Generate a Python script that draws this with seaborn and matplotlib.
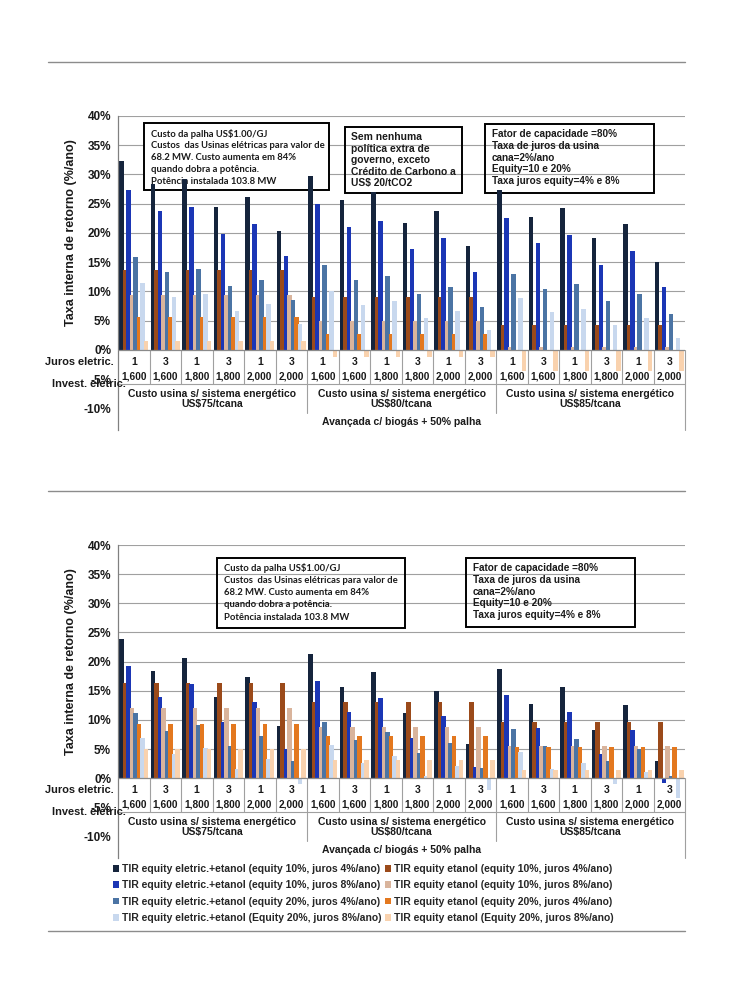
import numpy as np
import pandas as pd
import matplotlib
matplotlib.use("Agg")
import matplotlib.pyplot as plt
import seaborn as sns
from matplotlib.patches import Rectangle, Patch
from matplotlib.lines import Line2D

sns.set_style("white")
plt.rcParams["font.family"] = ["Liberation Sans", "DejaVu Sans"]

# ---------------- data ----------------
juros_labels = ["1", "3", "1", "3", "1", "3"] * 3
invest_labels = ["1,600", "1,600", "1,800", "1,800", "2,000", "2,000"] * 3
cost_labels = ["Custo usina s/ sistema energético\nUS$75/tcana",
               "Custo usina s/ sistema energético\nUS$80/tcana",
               "Custo usina s/ sistema energético\nUS$85/tcana"]
scenario_label = "Avançada c/ biogás + 50% palha"

series_names = [
    "TIR equity eletric.+etanol (equity 10%, juros 4%/ano)",
    "TIR equity etanol (equity 10%, juros 4%/ano)",
    "TIR equity eletric.+etanol (equity 10%, juros 8%/ano)",
    "TIR equity etanol (equity 10%, juros 8%/ano)",
    "TIR equity eletric.+etanol (equity 20%, juros 4%/ano)",
    "TIR equity etanol (equity 20%, juros 4%/ano)",
    "TIR equity eletric.+etanol (Equity 20%, juros 8%/ano)",
    "TIR equity etanol (Equity 20%, juros 8%/ano)",
]
series_colors = ["#15243C", "#9B4A1A", "#1B36B5", "#D9B49C",
                 "#4B74A4", "#E3781F", "#C8D8EE", "#F9D2AE"]

# top panel (percent)
top_elec_e10_j4 = [32.3, 28.4, 29.3, 24.4, 26.1, 20.4, 29.8, 25.7, 27.0, 21.7, 23.8, 17.8, 27.3, 22.8, 24.3, 19.1, 21.5, 15.0]
top_etan_e10_j4 = [13.6] * 6 + [9.0] * 6 + [4.3] * 6
top_elec_e10_j8 = [27.4, 23.7, 24.4, 19.8, 21.5, 16.1, 24.9, 21.1, 22.0, 17.2, 19.1, 13.3, 22.6, 18.3, 19.6, 14.6, 16.9, 10.8]
top_etan_e10_j8 = [9.4] * 6 + [5.0] * 6 + [0.5] * 6
top_elec_e20_j4 = [15.9, 13.3, 13.8, 11.0, 11.9, 8.6, 14.5, 11.9, 12.6, 9.6, 10.7, 7.4, 13.0, 10.4, 11.3, 8.3, 9.6, 6.1]
top_etan_e20_j4 = [5.6] * 6 + [2.7] * 6 + [-0.2] * 6
top_elec_e20_j8 = [11.5, 9.1, 9.6, 6.7, 7.9, 4.5, 10.1, 7.7, 8.3, 5.4, 6.6, 3.4, 8.8, 6.4, 7.0, 4.2, 5.4, 2.1]
top_etan_e20_j8 = [1.6] * 6 + [-1.2] * 6 + [-3.6] * 6

# bottom panel (percent)
bot_elec_e10_j4 = [23.8, 18.3, 20.6, 13.9, 17.3, 8.9, 21.3, 15.6, 18.2, 11.1, 15.0, 5.8, 18.8, 12.8, 15.6, 8.2, 12.5, 3.0]
bot_etan_e10_j4 = [16.3] * 6 + [13.0] * 6 + [9.6] * 6
bot_elec_e10_j8 = [19.3, 14.0, 16.1, 9.6, 13.1, 5.0, 16.7, 11.4, 13.8, 6.9, 10.7, 1.9, 14.3, 8.6, 11.4, 4.1, 8.3, -0.9]
bot_etan_e10_j8 = [12.1] * 6 + [8.7] * 6 + [5.5] * 6
bot_elec_e20_j4 = [11.1, 8.1, 9.1, 5.5, 7.3, 2.9, 9.6, 6.6, 7.9, 4.3, 6.0, 1.7, 8.4, 5.5, 6.7, 3.0, 5.0, 0.4]
bot_etan_e20_j4 = [9.3] * 6 + [7.3] * 6 + [5.3] * 6
bot_elec_e20_j8 = [6.9, 4.1, 5.1, 1.5, 3.3, -1.0, 5.7, 2.6, 3.8, 0.3, 2.0, -2.1, 4.5, 1.5, 2.6, -1.0, 1.0, -3.4]
bot_etan_e20_j8 = [5.0] * 6 + [3.1] * 6 + [1.4] * 6

top_series = [top_elec_e10_j4, top_etan_e10_j4, top_elec_e10_j8, top_etan_e10_j8,
              top_elec_e20_j4, top_etan_e20_j4, top_elec_e20_j8, top_etan_e20_j8]
bot_series = [bot_elec_e10_j4, bot_etan_e10_j4, bot_elec_e10_j8, bot_etan_e10_j8,
              bot_elec_e20_j4, bot_etan_e20_j4, bot_elec_e20_j8, bot_etan_e20_j8]

y_ticks = [-10, -5, 0, 5, 10, 15, 20, 25, 30, 35, 40]

box_left_lines = ["Custo da palha US$1.00/GJ",
                  "Custos  das Usinas elétricas para valor de",
                  "68.2 MW. Custo aumenta em 84%",
                  "quando dobra a potência.",
                  "Potência instalada 103.8 MW"]
box_mid_lines = ["Sem nenhuma", "política extra de", "governo, exceto",
                 "Crédito de Carbono a", "US$ 20/tCO2"]
box_right_lines = ["Fator de capacidade =80%", "Taxa de juros da usina",
                   "cana=2%/ano", "Equity=10 e 20%", "Taxa juros equity=4% e 8%"]

# ---------------- figure ----------------
W, H = 732, 994
fig = plt.figure(figsize=(W / 100, H / 100), dpi=100)
fig.patch.set_facecolor("white")

cats = [f"g{i:02d}" for i in range(18)]
YMIN = -13.7
GRID = "#a0a0a0"
TXT = "#1a1a1a"


def fx(px):
    return px / W


def fy(py):
    return 1 - py / H


def make_df(values):
    rows = []
    for name, vals in zip(series_names, values):
        for c, v in zip(cats, vals):
            rows.append({"cat": c, "series": name, "val": v})
    return pd.DataFrame(rows)


def draw_panel(ax, values):
    df = make_df(values)
    for y in range(5, 45, 5):
        ax.axhline(y, color=GRID, lw=0.8, zorder=0.5)
    sns.barplot(data=df, x="cat", y="val", hue="series", order=cats,
                hue_order=series_names, palette=series_colors, width=0.89,
                saturation=1, legend=False, ax=ax, linewidth=0, zorder=2)
    bw = 0.155
    for p in ax.patches:
        w = p.get_width()
        p.set_x(p.get_x() - (bw - w) / 2)
        p.set_width(bw)
    ax.axhline(0, color="#8a8a8a", lw=0.9, zorder=3)
    ax.set_xlim(-0.5, 17.5)
    ax.set_ylim(YMIN, 40)
    ax.set_xticks([])
    ax.set_xlabel("")
    ax.set_yticks(y_ticks)
    ax.set_yticklabels([f"{t}%" for t in y_ticks], fontsize=8.5,
                       fontweight="bold", color=TXT)
    ax.tick_params(axis="y", length=3, width=0.8, color="#808080", pad=2)
    for s in ["top", "right", "bottom"]:
        ax.spines[s].set_visible(False)
    ax.spines["left"].set_color("#808080")
    ax.spines["left"].set_linewidth(0.9)
    ax.set_ylabel("Taxa interna de retorno (%/ano)", fontsize=9,
                  fontweight="bold", color=TXT)
    ax.yaxis.set_label_coords(-0.072, (20 - YMIN) / (40 - YMIN))
    ax.set_facecolor("none")

    # category table
    row_line = -5.8
    cost_bottom = -10.8
    for i in range(18):
        ax.text(i, -2.1, juros_labels[i], ha="center", va="center",
                fontsize=7.5, fontweight="bold", color=TXT)
        ax.text(i, -4.6, invest_labels[i], ha="center", va="center",
                fontsize=7.3, fontweight="bold", color=TXT)
    for i in range(17):
        ax.plot([i + 0.5, i + 0.5], [0, row_line], color=GRID, lw=0.8,
                clip_on=False, zorder=1)
    ax.plot([-0.5, 17.5], [row_line, row_line], color=GRID, lw=0.8,
            clip_on=False, zorder=1)
    for xb in [5.5, 11.5]:
        ax.plot([xb, xb], [row_line, cost_bottom], color=GRID, lw=0.8,
                clip_on=False, zorder=1)
    ax.plot([17.5, 17.5], [0, YMIN], color=GRID, lw=0.8, clip_on=False,
            zorder=1)
    for k in range(3):
        ax.text(2.5 + 6 * k, -8.4, cost_labels[k], ha="center", va="center",
                fontsize=7.5, fontweight="bold", color=TXT, linespacing=1.05)
    ax.text(8.5, -12.4, scenario_label, ha="center", va="center",
            fontsize=7.5, fontweight="bold", color=TXT)
    ax.text(-0.008, -2.1, "Juros eletric.", ha="right", va="center",
            fontsize=7.9, fontweight="bold", color=TXT,
            transform=ax.get_yaxis_transform())
    ax.text(-0.116, -5.8, "Invest. eletric.", ha="left", va="center",
            fontsize=7.9, fontweight="bold", color=TXT,
            transform=ax.get_yaxis_transform())


def add_box(ax, x0, y0, x1, y1, lines, tx, ty0, dy, size, family, fill):
    ax.add_patch(Rectangle((fx(x0), fy(y1)), fx(x1) - fx(x0), fy(y0) - fy(y1),
                           transform=fig.transFigure, facecolor=fill,
                           edgecolor="black", lw=1.4, zorder=1.2,
                           clip_on=False))
    for k, line in enumerate(lines):
        ax.text(fx(tx), fy(ty0 + k * dy), line, transform=fig.transFigure,
                ha="left", va="center", fontsize=size, fontweight="bold",
                family=family, color=TXT, zorder=1.3, clip_on=False)


ax1 = fig.add_axes([fx(118), fy(430), fx(685) - fx(118), fy(116) - fy(430)])
draw_panel(ax1, top_series)
add_box(ax1, 144, 123, 329, 190, box_left_lines, 151, 134, 12.0, 6.8,
        ["Lato", "DejaVu Sans"], "white")
add_box(ax1, 345, 127, 462, 193, box_mid_lines, 351, 137, 11.6, 7.4,
        ["Liberation Sans", "DejaVu Sans"], "none")
add_box(ax1, 485, 124, 654, 193, box_right_lines, 492, 134, 11.8, 7.2,
        ["Liberation Sans", "DejaVu Sans"], "none")

ax2 = fig.add_axes([fx(118), fy(858), fx(685) - fx(118), fy(545) - fy(858)])
draw_panel(ax2, bot_series)
add_box(ax2, 217, 558, 405, 628, box_left_lines, 224, 568, 12.3, 6.8,
        ["Lato", "DejaVu Sans"], "none")
add_box(ax2, 466, 558, 635, 627, box_right_lines, 473, 568, 11.8, 7.2,
        ["Liberation Sans", "DejaVu Sans"], "none")

# legend (two columns: eletric.+etanol / etanol)
leg_order = [0, 2, 4, 6, 1, 3, 5, 7]
handles = [Patch(facecolor=series_colors[i], edgecolor="none") for i in leg_order]
labels = [series_names[i] for i in leg_order]
fig.legend(handles, labels, ncol=2, loc="upper left",
           bbox_to_anchor=(fx(109), fy(860)), frameon=False,
           prop={"size": 7.5, "weight": "bold"}, handlelength=0.6,
           handleheight=0.6, handletextpad=0.2, columnspacing=0.4,
           labelspacing=0.6, borderaxespad=0)

# page separator lines
for py in [62, 491, 931]:
    fig.add_artist(Line2D([fx(48), fx(685)], [fy(py), fy(py)],
                          transform=fig.transFigure, color="#8c8c8c", lw=1))

fig.savefig("out.png", dpi=100, facecolor="white")
